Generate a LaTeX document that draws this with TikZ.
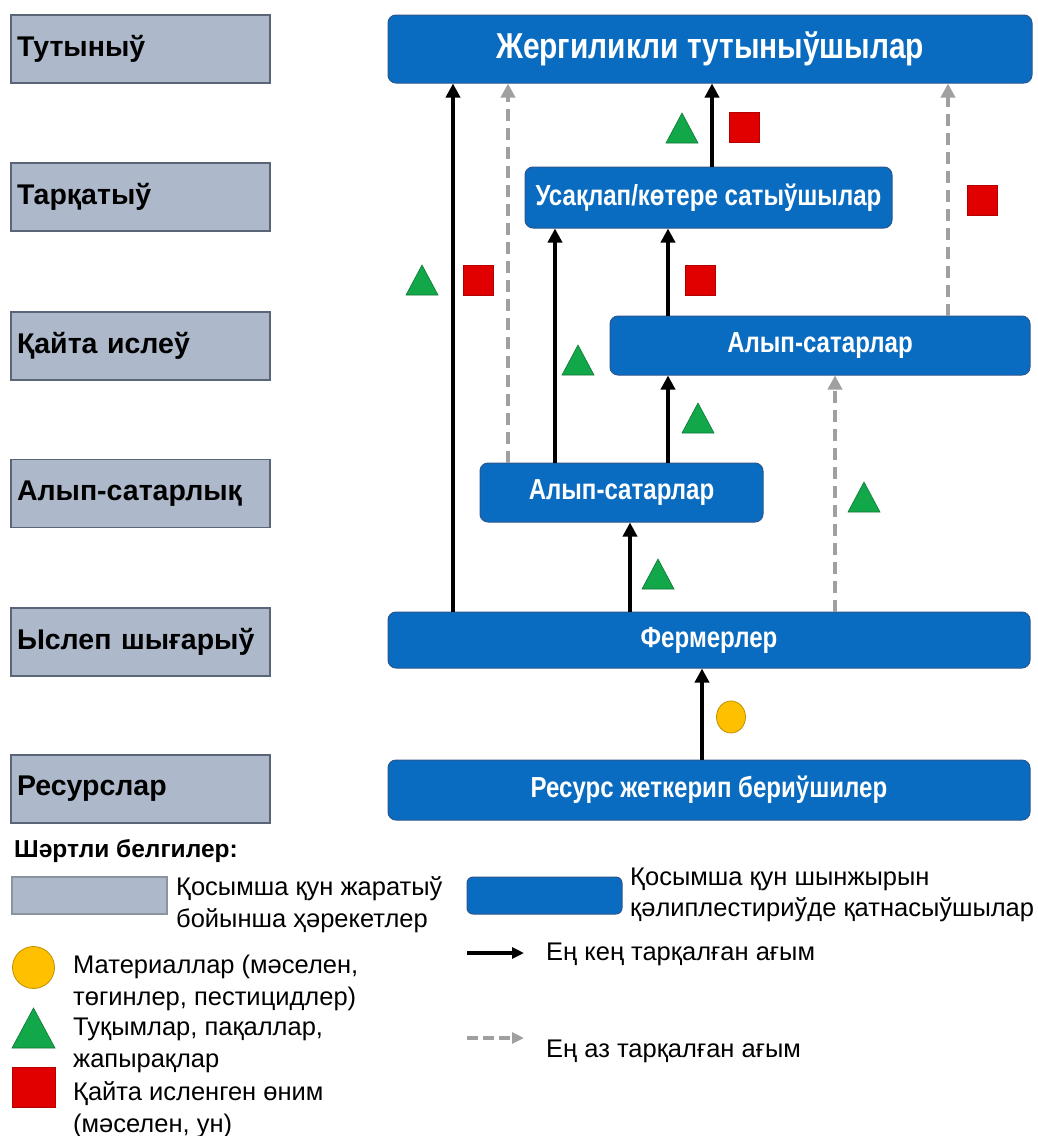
\documentclass[tikz,border=0pt]{standalone}
\usepackage{fontspec}
\setmainfont{Liberation Sans}
\newfontfamily\nb{Liberation Sans}[FakeStretch=0.83]
\usetikzlibrary{arrows.meta,shapes.geometric}
\definecolor{boxblue}{HTML}{0A6CC0}
\definecolor{boxblueedge}{HTML}{2A5690}
\definecolor{stagegray}{HTML}{ADB9CA}
\definecolor{stageedge}{HTML}{5A6577}
\definecolor{mkgreen}{HTML}{12A84A}
\definecolor{mkred}{HTML}{E00000}
\definecolor{mkyellow}{HTML}{FFC000}
\definecolor{dashgray}{HTML}{A0A0A0}
\tikzset{
  stage/.style={draw=stageedge, line width=1.6pt, fill=stagegray, minimum width=259pt, minimum height=68pt,
    inner sep=0pt, text width=255pt, align=left, font=\fontsize{28.5}{32}\selectfont\bfseries},
  actor/.style={draw=boxblueedge, line width=1pt, fill=boxblue, rounded corners=8pt, inner sep=0pt,
    text=white, font=\nb\fontsize{29}{32}\selectfont\bfseries},
  mainflow/.style={line width=4pt, black, -{Triangle[width=14pt,length=14pt]}},
  minorflow/.style={line width=3.8pt, dashgray, dash pattern=on 12pt off 7pt, -{Triangle[width=14pt,length=14pt]}},
  tri/.style={fill=mkgreen, draw=mkgreen!70!black, line width=0.6pt},
  sq/.style={fill=mkred, draw=mkred!80!black, line width=0.6pt},
  circ/.style={fill=mkyellow, draw=mkyellow!75!black, line width=0.8pt},
  legtext/.style={anchor=base west, inner sep=0pt, font=\fontsize{25.5}{30}\selectfont},
}
\newcommand{\gtri}[2]{\path[tri] (#1-16,#2+15) -- (#1+16,#2+15) -- (#1,#2-15) -- cycle;}
\newcommand{\rsq}[2]{\path[sq] (#1-15,#2-15) rectangle (#1+15,#2+15);}
\begin{document}
\begin{tikzpicture}[x=1pt,y=-1pt]
\useasboundingbox (0,0) rectangle (1038,1136);
% stage boxes
\node[stage] (s1) at (140.5,49) {\hspace*{4pt}Тутыныў};
\node[stage] (s2) at (140.5,197) {\hspace*{4pt}Тарқатыў};
\node[stage] (s3) at (140.5,346) {\hspace*{4pt}Қайта ислеў};
\node[stage] (s4) at (140.5,493.5) {\hspace*{4pt}Алып-сатарлық};
\node[stage] (s5) at (140.5,642) {\hspace*{4pt}Ыслеп шығарыў};
\node[stage] (s6) at (140.5,789) {\hspace*{4pt}Ресурслар};
% actor boxes
\node[actor, minimum width=644pt, minimum height=68pt, font=\nb\fontsize{36}{40}\selectfont\bfseries] (cons) at (710,49) {Жергиликли тутыныўшылар};
\node[actor, minimum width=367pt, minimum height=61pt] (ret) at (708.5,197.5) {Усақлап/көтере сатыўшылар};
\node[actor, minimum width=420pt, minimum height=59pt] (tr2) at (820,345.5) {Алып-сатарлар};
\node[actor, minimum width=283pt, minimum height=59pt] (tr1) at (621.5,492.5) {Алып-сатарлар};
\node[actor, minimum width=642pt, minimum height=56pt] (farm) at (709,640) {Фермерлер};
\node[actor, minimum width=642pt, minimum height=60pt] (res) at (709,790) {Ресурс жеткерип бериўшилер};
% x positions of the flows
\coordinate (x453) at (453,0);
\coordinate (x508) at (508,0);
\coordinate (x555) at (555,0);
\coordinate (x630) at (630,0);
\coordinate (x668) at (668,0);
\coordinate (x702) at (702,0);
\coordinate (x712) at (712,0);
\coordinate (x835) at (835,0);
\coordinate (x948) at (948,0);
% flows
\draw[mainflow] (farm.north -| x453) -- (cons.south -| x453);
\draw[minorflow] (tr1.north -| x508) -- (cons.south -| x508);
\draw[mainflow] (ret.north -| x712) -- (cons.south -| x712);
\draw[minorflow] (tr2.north -| x948) -- (cons.south -| x948);
\draw[mainflow] (tr1.north -| x555) -- (ret.south -| x555);
\draw[mainflow] (tr2.north -| x668) -- (ret.south -| x668);
\draw[mainflow] (tr1.north -| x668) -- (tr2.south -| x668);
\draw[minorflow] (farm.north -| x835) -- (tr2.south -| x835);
\draw[mainflow] (farm.north -| x630) -- (tr1.south -| x630);
\draw[mainflow] (res.north -| x702) -- (farm.south -| x702);
% markers
\gtri{682}{128}
\rsq{744}{127}
\rsq{982}{200}
\gtri{422}{280}
\rsq{478}{280}
\rsq{700}{280}
\gtri{578}{360}
\gtri{698}{418}
\gtri{864}{497}
\gtri{658}{574}
\path[circ] (731,717) ellipse (14.5pt and 16pt);
% legend
\node[anchor=base west, inner sep=0pt, font=\fontsize{24.5}{28}\selectfont\bfseries] (legtitle) at (14,857) {Шәртли белгилер:};
\node[draw=stageedge!70, line width=1.2pt, fill=stagegray, minimum width=155pt, minimum height=37pt, inner sep=0pt] (lg1) at (89.5,895.5) {};
\node[legtext] (lt1a) at (176,895) {Қосымша қун жаратыў};
\node[legtext] (lt1b) at (176,927) {бойынша ҳәрекетлер};
\path[circ] (33.5,967.5) circle (21pt);
\node[legtext] (lt2a) at (73,973) {Материаллар (мәселен,};
\node[legtext] (lt2b) at (73,1005) {төгинлер, пестицидлер)};
\path[tri] (12,1048) -- (55,1048) -- (33.5,1008) -- cycle;
\node[legtext] (lt3a) at (73,1035) {Туқымлар, пақаллар,};
\node[legtext] (lt3b) at (73,1067) {жапырақлар};
\path[sq] (12,1067) rectangle (55,1107);
\node[legtext] (lt4a) at (73,1100) {Қайта исленген өним};
\node[legtext] (lt4b) at (73,1132) {(мәселен, ун)};
\node[actor, minimum width=155pt, minimum height=37pt, rounded corners=6pt] (lg2) at (544.5,895.5) {};
\node[legtext] (lt5a) at (630,885) {Қосымша қун шынжырын};
\node[legtext] (lt5b) at (630,916) {қәлиплестириўде қатнасыўшылар};
\coordinate (la1) at (467,953);
\coordinate (la2) at (524,953);
\draw[line width=4pt, black, -{Triangle[width=11pt,length=12pt]}] (la1) -- (la2);
\node[legtext] (lt6) at (546,960) {Ең кең тарқалған ағым};
\coordinate (lb1) at (467,1038);
\coordinate (lb2) at (524,1038);
\draw[line width=4pt, dashgray, dash pattern=on 11pt off 5pt, -{Triangle[width=11pt,length=12pt]}] (lb1) -- (lb2);
\node[legtext] (lt7) at (546,1057) {Ең аз тарқалған ағым};
\end{tikzpicture}
\end{document}
